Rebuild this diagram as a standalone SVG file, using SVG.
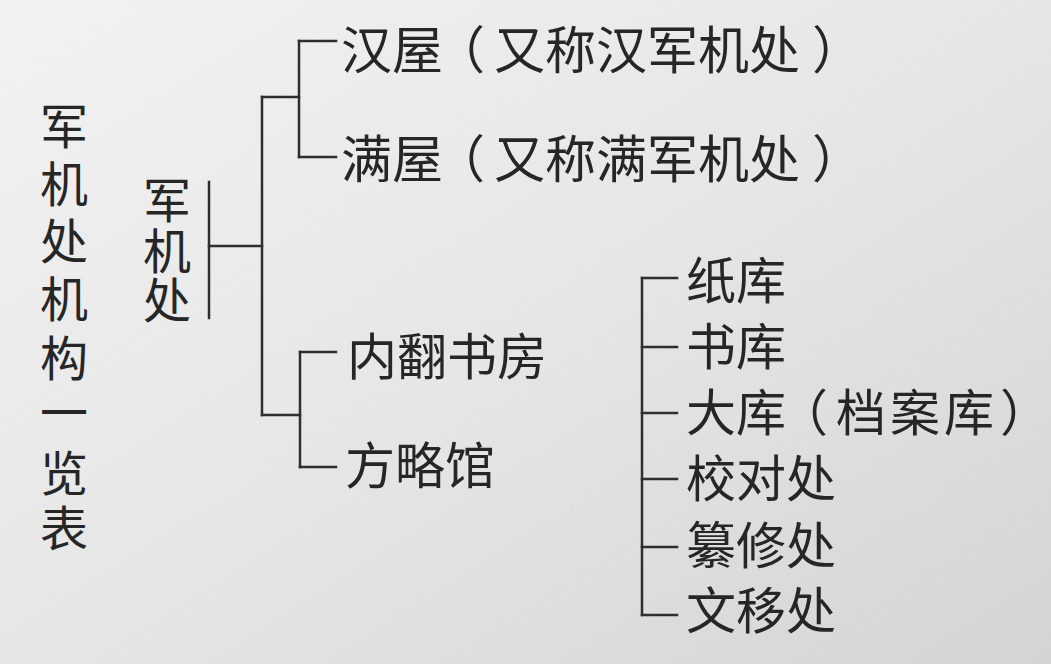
<svg xmlns="http://www.w3.org/2000/svg" width="1051" height="664" viewBox="0 0 1051 664">
  <defs>
    <linearGradient id="paper" x1="0" y1="0" x2="1" y2="1">
      <stop offset="0" stop-color="#f2f2f2"/>
      <stop offset="0.5" stop-color="#e6e6e6"/>
      <stop offset="1" stop-color="#d4d4d4"/>
    </linearGradient>
  </defs>
  <style>
    .t { font-family: "Noto Sans CJK SC", "Noto Sans CJK JP", sans-serif; fill: #262626; font-size: 50px; }
    .t51 { font-size: 51px; }
    .v { font-family: "Noto Sans CJK SC", "Noto Sans CJK JP", sans-serif; fill: #262626; font-size: 48px; text-anchor: middle; }
    .c { fill: none; stroke: #2e2e2e; stroke-width: 2.5; stroke-linecap: square; }
  </style>
  <rect x="0" y="0" width="1051" height="664" fill="url(#paper)"/>

  <g id="title">
    <text class="v" x="64" y="144">军</text>
    <text class="v" x="64" y="202">机</text>
    <text class="v" x="64" y="259">处</text>
    <text class="v" x="64" y="317">机</text>
    <text class="v" x="64" y="376">构</text>
    <text class="v" x="64" y="430">一</text>
    <text class="v" x="64" y="491">览</text>
    <text class="v" x="64" y="546">表</text>
  </g>

  <g id="root">
    <text class="v" x="167" y="218">军</text>
    <text class="v" x="167" y="269">机</text>
    <text class="v" x="167" y="318">处</text>
  </g>

  <g id="connectors">
    <path class="c" d="M209,182 V318"/>
    <path class="c" d="M209,246 H262"/>
    <path class="c" d="M262,97 V415"/>
    <path class="c" d="M262,97 H299"/>
    <path class="c" d="M299,41 V157"/>
    <path class="c" d="M299,41 H336"/>
    <path class="c" d="M299,157 H336"/>
    <path class="c" d="M262,415 H300"/>
    <path class="c" d="M300,352 V467"/>
    <path class="c" d="M300,352 H336"/>
    <path class="c" d="M300,467 H336"/>
    <path class="c" d="M642,278 V615"/>
    <path class="c" d="M642,278 H677"/>
    <path class="c" d="M642,347 H677"/>
    <path class="c" d="M642,413 H677"/>
    <path class="c" d="M642,479 H677"/>
    <path class="c" d="M642,547 H677"/>
    <path class="c" d="M642,615 H677"/>
  </g>

  <g id="hanwu"><text class="t t51" x="341" y="69">汉屋<tspan dx="-9">（</tspan><tspan dx="9">又称汉军机处</tspan><tspan dx="12">）</tspan></text></g>
  <g id="manwu"><text class="t t51" x="341" y="178">满屋<tspan dx="-9">（</tspan><tspan dx="9">又称满军机处</tspan><tspan dx="12">）</tspan></text></g>
  <g id="neifan"><text class="t" x="347" y="375">内翻书房</text></g>
  <g id="fanglue"><text class="t" x="345" y="484">方略馆</text></g>

  <g id="zhiku"><text class="t" x="686" y="299">纸库</text></g>
  <g id="shuku"><text class="t" x="686" y="365">书库</text></g>
  <g id="daku"><text class="t" x="686" y="431">大库<tspan dx="-8">（</tspan><tspan dx="8" letter-spacing="4">档案库</tspan><tspan dx="2">）</tspan></text></g>
  <g id="jiaodui"><text class="t" x="686" y="497">校对处</text></g>
  <g id="zuanxiu"><text class="t" x="686" y="564">纂修处</text></g>
  <g id="wenyi"><text class="t" x="686" y="629">文移处</text></g>
</svg>
